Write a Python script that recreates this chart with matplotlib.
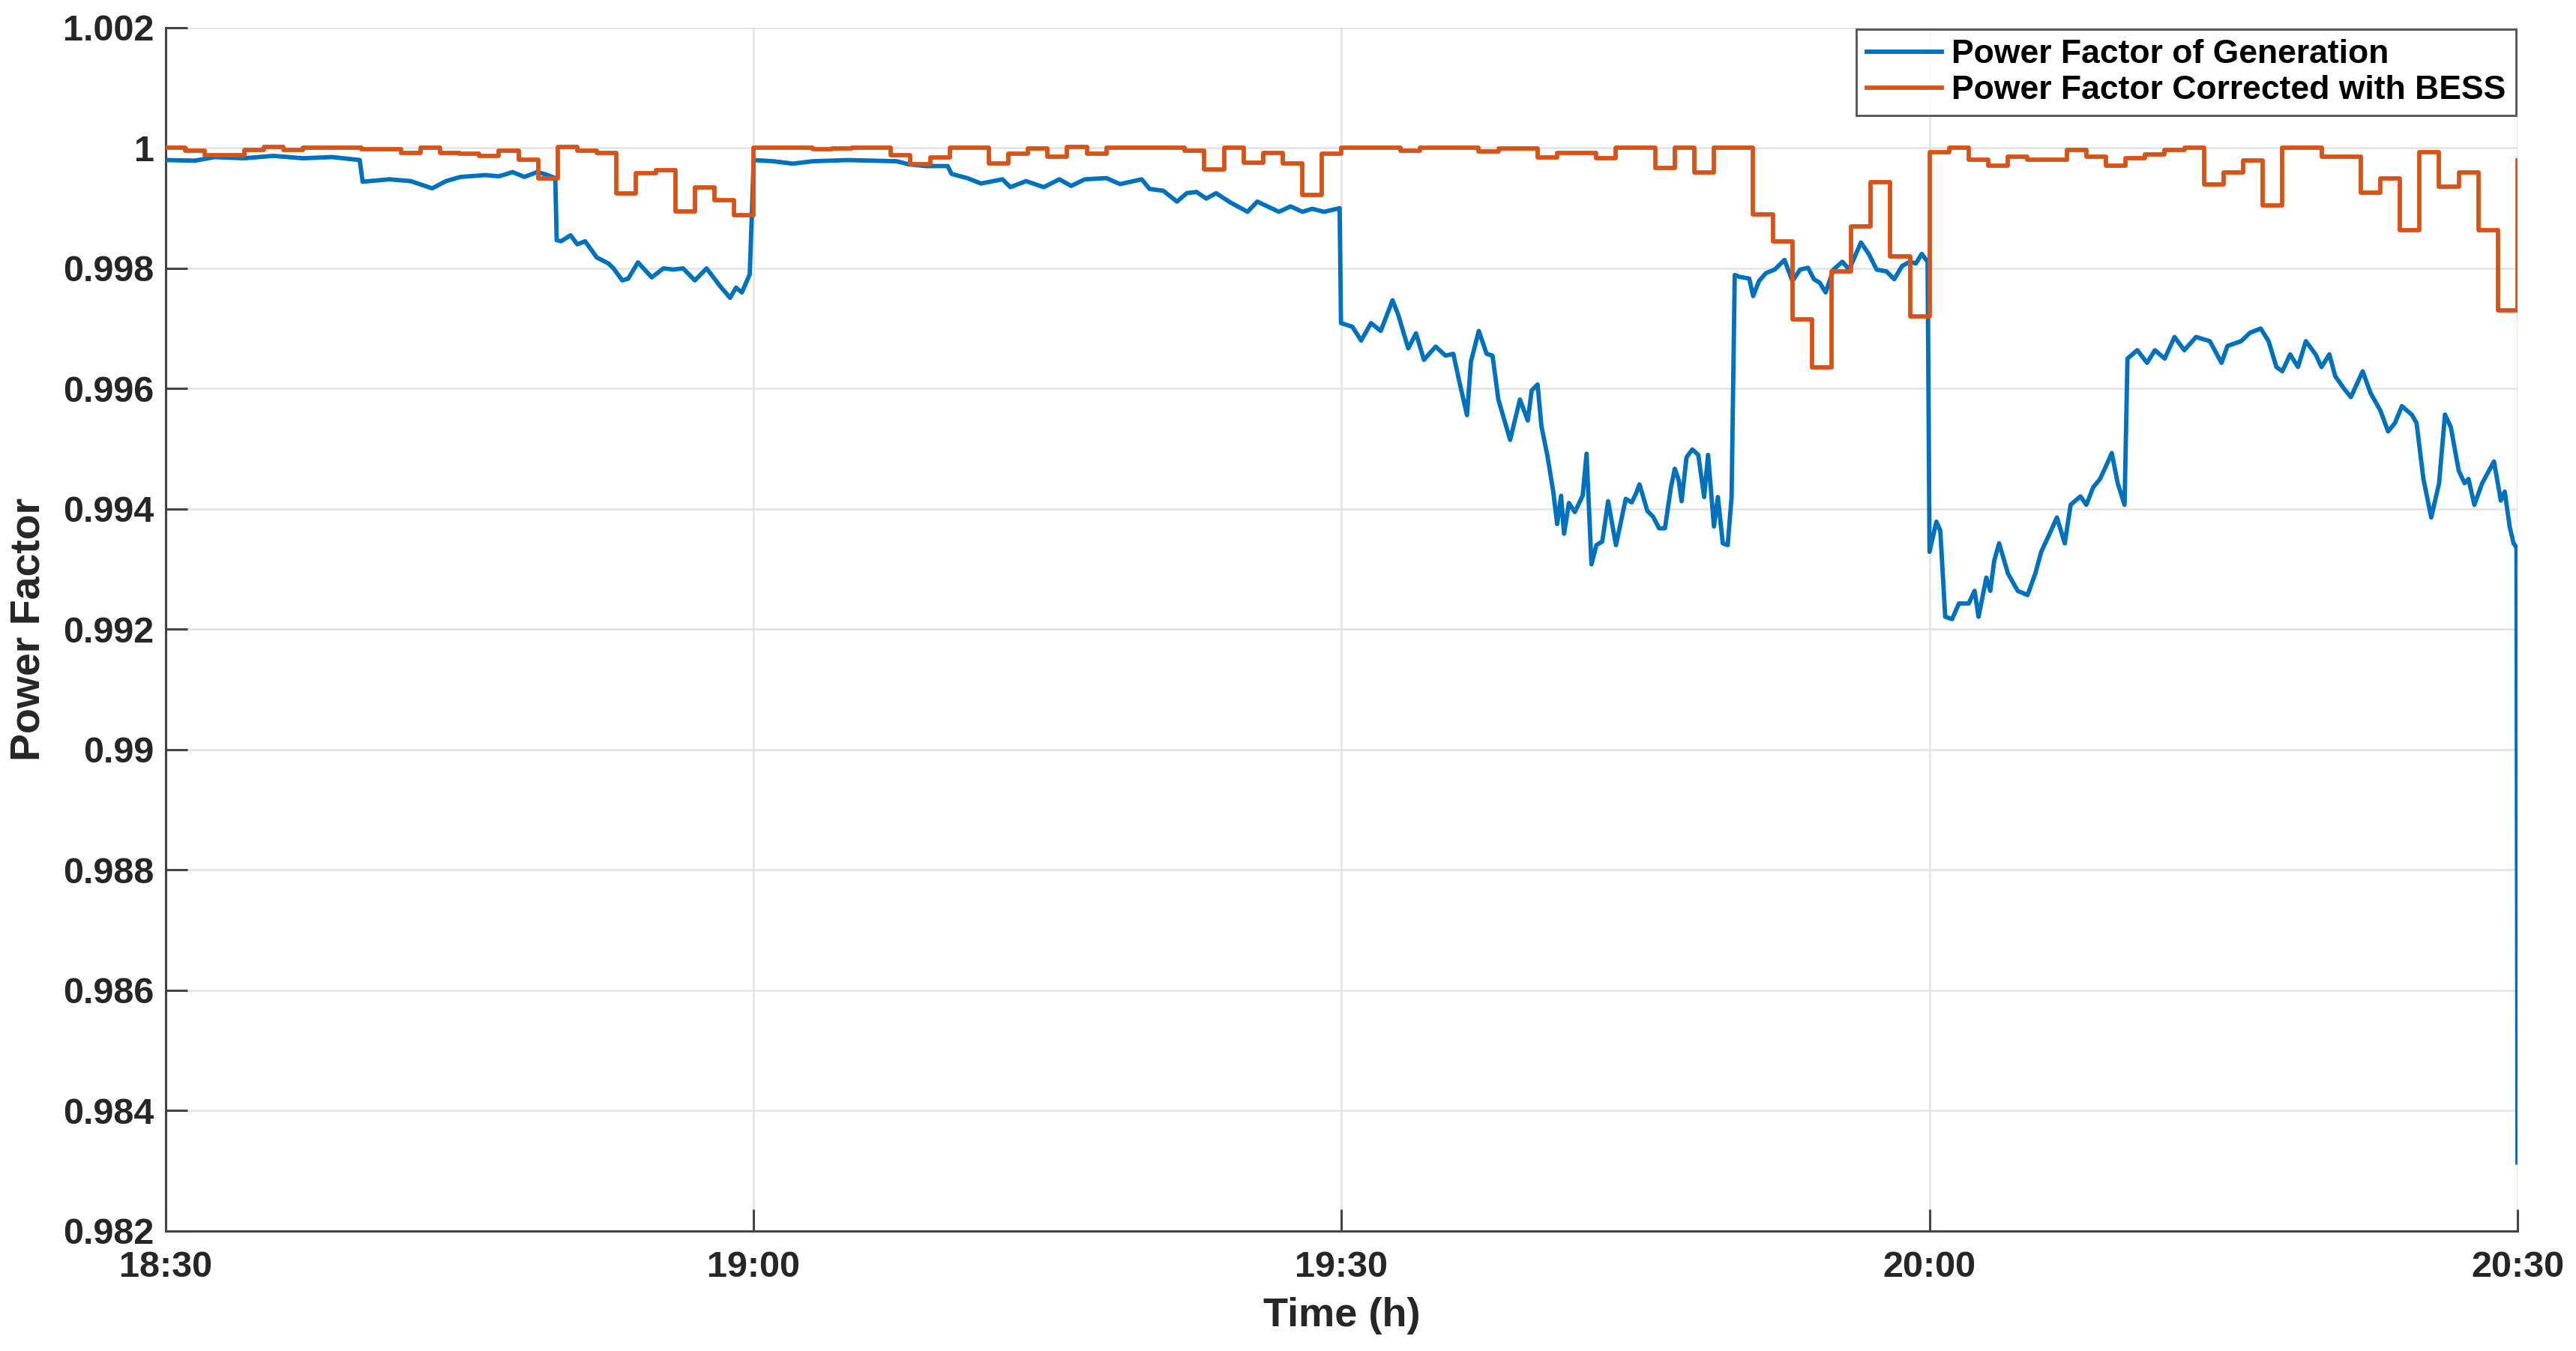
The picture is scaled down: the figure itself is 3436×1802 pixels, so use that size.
import matplotlib
matplotlib.use("Agg")
import matplotlib.pyplot as plt
import numpy as np

# ---------------- data ----------------
# minutes after 18:30
gen_time = [0.0, 1.5, 2.5, 4.0, 5.5, 7.0, 8.5, 9.9, 10.05, 11.4, 12.5, 13.6, 14.3, 15.05,
            16.3, 17.0, 17.7, 18.3, 18.95, 19.4, 19.88, 19.95, 20.17, 20.66, 21.0, 21.4,
            22.0, 22.6, 22.85, 23.3, 23.6, 24.1, 24.8, 25.4, 25.9, 26.4, 27.0, 27.6, 28.3,
            28.8, 29.1, 29.4, 29.8, 29.92, 30.0, 31.0, 32.0, 33.0, 34.8, 36.0, 37.3, 37.9,
            38.8, 39.9, 40.1, 40.9, 41.6, 42.7, 43.1, 43.9, 44.8, 45.6, 46.2, 46.9, 48.0,
            48.7, 49.8, 50.2, 50.9, 51.6, 52.1, 52.6, 53.1, 53.6, 54.3, 55.2, 55.7, 56.8,
            57.4, 58.0, 58.5, 59.1, 59.9, 59.97, 60.55, 61.0, 61.5, 62.0, 62.6, 62.9, 63.4,
            63.8, 64.2, 64.8, 65.3, 65.7, 66.0, 66.4, 66.6, 67.0, 67.4, 67.7, 68.0, 68.6,
            69.1, 69.5, 69.7, 70.0, 70.2, 70.5, 70.8, 71.0, 71.2, 71.35, 71.6, 71.9, 72.3,
            72.5, 72.75, 73.0, 73.3, 73.6, 74.0, 74.5, 74.8, 75.0, 75.2, 75.6, 75.9, 76.2,
            76.5, 76.8, 77.0, 77.2, 77.35, 77.6, 77.9, 78.2, 78.5, 78.7, 79.0, 79.2, 79.45,
            79.7, 79.9, 80.06, 80.3, 80.8, 81.0, 81.3, 81.65, 82.1, 82.6, 83.0, 83.4, 83.8,
            84.1, 84.4, 84.7, 85.1, 85.55, 85.9, 86.5, 86.9, 87.3, 87.8, 88.2, 88.6, 89.0,
            89.3, 89.6, 89.9, 90.0, 90.35, 90.55, 90.8, 91.15, 91.5, 92.0, 92.3, 92.5, 92.9,
            93.1, 93.3, 93.55, 94.0, 94.5, 95.0, 95.4, 95.7, 96.1, 96.5, 96.9, 97.2, 97.7,
            98.0, 98.35, 98.7, 99.0, 99.3, 99.6, 99.95, 100.1, 100.6, 101.1, 101.5, 102.0,
            102.5, 103.0, 103.6, 104.3, 104.9, 105.2, 105.9, 106.35, 106.9, 107.3, 107.7,
            108.0, 108.4, 108.8, 109.2, 109.7, 110.0, 110.4, 110.7, 111.15, 111.5, 112.1,
            112.5, 113.0, 113.4, 113.75, 114.1, 114.6, 114.85, 115.2, 115.6, 116.0, 116.3,
            116.6, 117.0, 117.3, 117.5, 117.8, 118.2, 118.8, 119.15, 119.35, 119.6, 119.8,
            119.95, 120.0]
gen_pf = [0.99980, 0.99979, 0.99985, 0.99983, 0.99987, 0.99983, 0.99985, 0.99980, 0.99944,
          0.99948, 0.99945, 0.99933, 0.99945, 0.99952, 0.99955, 0.99953, 0.99960, 0.99952,
          0.99960, 0.99956, 0.99950, 0.99847, 0.99845, 0.99855, 0.99840, 0.99845, 0.99818,
          0.99808, 0.99800, 0.99780, 0.99783, 0.99810, 0.99785, 0.99800, 0.99798, 0.99800,
          0.99780, 0.99800, 0.99770, 0.99751, 0.99768, 0.99760, 0.99790, 0.99900, 0.99980,
          0.99978, 0.99974, 0.99978, 0.99980, 0.99979, 0.99978, 0.99973, 0.99970, 0.99970,
          0.99957, 0.99950, 0.99941, 0.99948, 0.99935, 0.99945, 0.99935, 0.99948, 0.99937,
          0.99948, 0.99950, 0.99940, 0.99948, 0.99932, 0.99929, 0.99911, 0.99925, 0.99927,
          0.99916, 0.99925, 0.99910, 0.99894, 0.99911, 0.99894, 0.99903, 0.99894, 0.99899,
          0.99894, 0.99900, 0.99709, 0.99703, 0.99680, 0.99709, 0.99696, 0.99747, 0.99722,
          0.99667, 0.99692, 0.99648, 0.99670, 0.99655, 0.99658, 0.99613, 0.99556, 0.99645,
          0.99696, 0.99658, 0.99655, 0.99582, 0.99515, 0.99582, 0.99547, 0.99597, 0.99607,
          0.99537, 0.99489, 0.99429, 0.99375, 0.99422, 0.99359, 0.99410, 0.99395, 0.99422,
          0.99492, 0.99308, 0.99340, 0.99346, 0.99413, 0.99340, 0.99417, 0.99411, 0.99424,
          0.99441, 0.99397, 0.99387, 0.99368, 0.99368, 0.99435, 0.99467, 0.99448, 0.99413,
          0.99486, 0.99499, 0.99490, 0.99420, 0.99490, 0.99371, 0.99420, 0.99343, 0.99340,
          0.99420, 0.99789, 0.99786, 0.99783, 0.99754, 0.99779, 0.99792, 0.99798, 0.99814,
          0.99779, 0.99798, 0.99801, 0.99782, 0.99776, 0.99760, 0.99798, 0.99811, 0.99798,
          0.99843, 0.99824, 0.99798, 0.99795, 0.99782, 0.99804, 0.99811, 0.99808, 0.99824,
          0.99811, 0.99329, 0.99379, 0.99364, 0.99221, 0.99217, 0.99243, 0.99243, 0.99264,
          0.99221, 0.99286, 0.99264, 0.99314, 0.99343, 0.99293, 0.99264, 0.99257, 0.99293,
          0.99329, 0.99357, 0.99386, 0.99343, 0.99407, 0.99421, 0.99407, 0.99436, 0.99450,
          0.99471, 0.99493, 0.99443, 0.99407, 0.99650, 0.99664, 0.99643, 0.99664, 0.99650,
          0.99686, 0.99664, 0.99686, 0.99679, 0.99643, 0.99671, 0.99679, 0.99693, 0.99700,
          0.99679, 0.99636, 0.99629, 0.99657, 0.99636, 0.99679, 0.99657, 0.99636, 0.99657,
          0.99621, 0.99600, 0.99586, 0.99629, 0.99593, 0.99564, 0.99529, 0.99543, 0.99571,
          0.99557, 0.99543, 0.99450, 0.99386, 0.99443, 0.99557, 0.99536, 0.99464, 0.99443,
          0.99450, 0.99407, 0.99443, 0.99479, 0.99414, 0.99429, 0.99371, 0.99343, 0.99336,
          0.98314]

# corrected PF, one value per minute (0..120)
bess_pf = [1.00000, 0.99995, 0.99988, 0.99988, 0.99997, 1.00002, 0.99997, 1.00000, 1.00000,
           1.00000, 0.99998, 0.99998, 0.99992, 1.00000, 0.99992, 0.99990, 0.99987, 0.99996,
           0.99980, 0.99949, 1.00002, 0.99996, 0.99992, 0.99924, 0.99958, 0.99963, 0.99895,
           0.99935, 0.99913, 0.99888, 1.00000, 1.00000, 1.00000, 0.99998, 0.99999, 1.00000,
           1.00000, 0.99988, 0.99973, 0.99984, 1.00000, 1.00000, 0.99975, 0.99990, 0.99999,
           0.99986, 1.00002, 0.99990, 1.00000, 1.00000, 1.00000, 1.00000, 0.99995, 0.99964,
           1.00000, 0.99976, 0.99992, 0.99975, 0.99922, 0.99990, 1.00000, 1.00000, 1.00000,
           0.99995, 1.00000, 1.00000, 1.00000, 0.99994, 0.99999, 0.99999, 0.99984, 0.99992,
           0.99992, 0.99983, 1.00000, 1.00000, 0.99967, 1.00000, 0.99960, 1.00000, 1.00000,
           0.99890, 0.99845, 0.99715, 0.99635, 0.99795, 0.99870, 0.99943, 0.99820, 0.99720,
           0.99993, 1.00000, 0.99981, 0.99971, 0.99986, 0.99981, 0.99981, 0.99997, 0.99986,
           0.99971, 0.99983, 0.99989, 0.99997, 1.00000, 0.99940, 0.99960, 0.99979, 0.99905,
           1.00000, 1.00000, 0.99986, 0.99986, 0.99926, 0.99950, 0.99864, 0.99993, 0.99936,
           0.99959, 0.99864, 0.99730, 0.99979]
bess_time = list(range(len(bess_pf)))

xtick_pos = [0, 30, 60, 90, 120]
xtick_labels = ["18:30", "19:00", "19:30", "20:00", "20:30"]
ytick_pos = [0.982, 0.984, 0.986, 0.988, 0.990, 0.992, 0.994, 0.996, 0.998, 1.000, 1.002]
ytick_labels = ["0.982", "0.984", "0.986", "0.988", "0.99", "0.992", "0.994", "0.996",
                "0.998", "1", "1.002"]
series_names = ["Power Factor of Generation", "Power Factor Corrected with BESS"]

# ---------------- plot ----------------
plt.rcParams['font.family'] = ['Liberation Sans', 'DejaVu Sans']
plt.rcParams['font.weight'] = 'bold'

fig = plt.figure(figsize=(34.37, 18.02), dpi=100)
ax = fig.add_axes([0.0643, 0.0888, 0.9127, 0.8907])

blue = '#0072BD'
orange = '#D95319'
ax.plot(gen_time, gen_pf, color=blue, lw=4.2, label=series_names[0], zorder=3)
ax.plot(bess_time, bess_pf, color=orange, lw=4.2, drawstyle='steps-post',
        label=series_names[1], zorder=3)

ax.set_xlim(0, 120)
ax.set_ylim(0.982, 1.002)
ax.set_xticks(xtick_pos)
ax.set_xticklabels(xtick_labels)
ax.set_yticks(ytick_pos)
ax.set_yticklabels(ytick_labels)

ax.grid(True, color='#e3e3e3', lw=1.8, zorder=0)
ax.set_axisbelow(True)
for s in ['top', 'right']:
    ax.spines[s].set_visible(False)
for s in ['left', 'bottom']:
    ax.spines[s].set_color('#444444')
    ax.spines[s].set_linewidth(2.2)

ax.tick_params(axis='both', direction='in', length=21, width=2.2, color='#444444',
               labelsize=35, labelcolor='#262626')
ax.tick_params(axis='y', pad=11)
ax.tick_params(axis='x', pad=19)
for lab in ax.get_xticklabels() + ax.get_yticklabels():
    lab.set_fontweight('bold')

ax.set_xlabel("Time (h)", fontsize=39, fontweight='bold', color='#262626', labelpad=12)
ax.set_ylabel("Power Factor", fontsize=40, fontweight='bold', color='#262626', labelpad=14)

leg = ax.legend(loc='upper right', fontsize=32, frameon=True, fancybox=False,
                edgecolor='#262626', borderaxespad=0.05, handlelength=2.25,
                handletextpad=0.3, borderpad=0.3, labelspacing=0.15)
leg.get_frame().set_linewidth(2.0)
for t in leg.get_texts():
    t.set_fontweight('bold')

fig.savefig("out.png", dpi=100, facecolor='white')
